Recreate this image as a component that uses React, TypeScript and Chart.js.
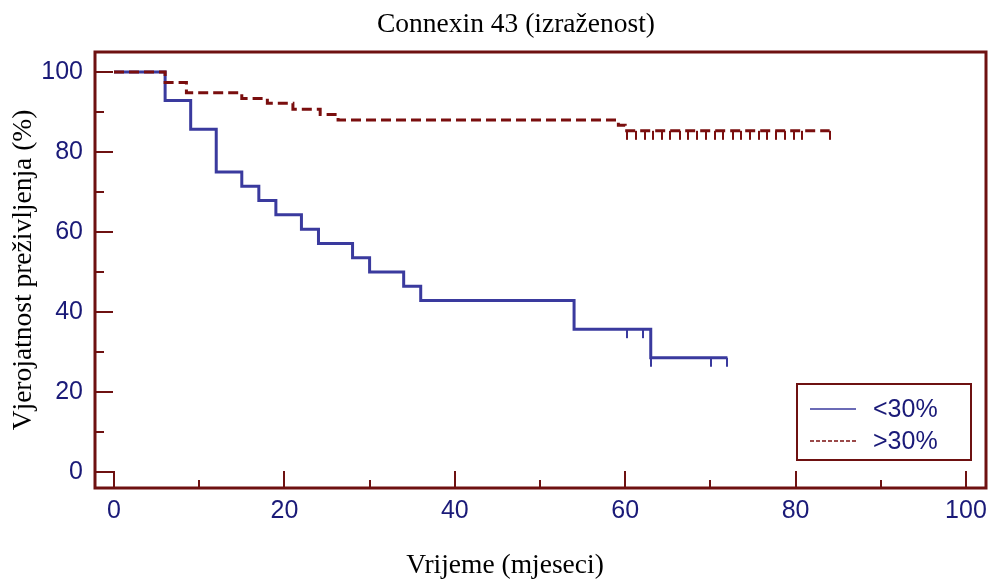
import React, { useEffect, useRef } from 'react';
import { Chart, registerables } from 'chart.js';

Chart.register(...registerables);

const TITLE = 'Connexin 43 (izraženost)';
const X_TITLE = 'Vrijeme (mjeseci)';
const Y_TITLE = 'Vjerojatnost preživljenja (%)';
const SERIES_LABELS = ['<30%', '>30%'];

// <30% group: event times (months) and survival (%)
const LOW_TIMES = [0, 6, 9, 12, 15, 17, 19, 22, 24, 28, 30, 34, 36, 54, 63, 72];
const LOW_SURV = [100, 92.86, 85.71, 75, 71.43, 67.86, 64.29, 60.71, 57.14, 53.57, 50, 46.43, 42.86, 35.71, 28.57, 28.57];
const LOW_CENSOR = [60.2, 62.1, 63, 70.1, 72];

// >30% group
const HIGH_TIMES = [0, 6, 8.5, 15, 18, 21, 24.2, 26.3, 59.2, 60, 84];
const HIGH_SURV = [100, 97.4, 94.8, 93.4, 92.2, 90.7, 89.4, 88.0, 86.7, 85.3, 85.3];
const HIGH_CENSOR = [60.2, 61.3, 62.3, 63.3, 64.3, 65.3, 66.4, 67.4, 68.4, 69.5, 70.5, 71.5, 72.6, 73.6, 74.6, 75.7, 76.7, 77.7, 78.8, 79.8, 80.8, 84];

const MAJOR_TICKS = [0, 20, 40, 60, 80, 100];
const MINOR_TICKS = [10, 30, 50, 70, 90];
const X_RANGE = [-2.23, 102.35];
const Y_RANGE = [-4, 105];

const NAVY = '#1a1a78';
const BLUE = '#3a3a9e';
const RED = '#7a0e0e';
const FRAME = '#6e1111';
const SANS = '"Liberation Sans", Arial, sans-serif';
const SERIF = '"Liberation Serif", "Times New Roman", serif';

function survivalAt(times: number[], surv: number[], t: number) {
  let v = surv[0];
  for (let i = 0; i < times.length; i++) if (times[i] <= t) v = surv[i];
  return v;
}

function makeCensorMark(color: string) {
  const c = document.createElement('canvas');
  c.width = 2;
  c.height = 20;
  const g = c.getContext('2d')!;
  g.fillStyle = color;
  g.fillRect(0, 10, 2, 9);
  return c;
}

const framePlugin = {
  id: 'frameTicks',
  afterDatasetsDraw(chart: any) {
    const { ctx, chartArea: a, scales } = chart;
    const x = scales.x;
    const y = scales.y;
    ctx.save();
    ctx.strokeStyle = FRAME;
    ctx.lineWidth = 2;
    ctx.beginPath();
    MAJOR_TICKS.forEach((v) => {
      const px = Math.round(x.getPixelForValue(v));
      ctx.moveTo(px, a.bottom);
      ctx.lineTo(px, a.bottom - 17);
      const py = Math.round(y.getPixelForValue(v));
      ctx.moveTo(a.left, py);
      ctx.lineTo(a.left + 18, py);
    });
    MINOR_TICKS.forEach((v) => {
      const px = Math.round(x.getPixelForValue(v));
      ctx.moveTo(px, a.bottom);
      ctx.lineTo(px, a.bottom - 8);
      const py = Math.round(y.getPixelForValue(v));
      ctx.moveTo(a.left, py);
      ctx.lineTo(a.left + 9, py);
    });
    ctx.stroke();
    ctx.lineWidth = 3;
    ctx.strokeRect(a.left, a.top, a.right - a.left, a.bottom - a.top);
    ctx.restore();
  },
  afterDraw(chart: any) {
    const { ctx, chartArea: a } = chart;
    ctx.save();
    // titles
    ctx.fillStyle = '#000';
    ctx.font = `27.5px ${SERIF}`;
    ctx.textAlign = 'center';
    ctx.textBaseline = 'alphabetic';
    ctx.fillText(TITLE, 516, 32);
    ctx.fillText(X_TITLE, 505, 573);

    // legend
    const bw = 174;
    const bh = 76;
    const bx = a.right - 15 - bw;
    const by = a.bottom - 28 - bh;
    ctx.fillStyle = '#fff';
    ctx.fillRect(bx, by, bw, bh);
    ctx.strokeStyle = FRAME;
    ctx.lineWidth = 2;
    ctx.strokeRect(bx, by, bw, bh);
    const ds = chart.data.datasets;
    [0, 1].forEach((i) => {
      const d = ds[i];
      const yy = by + 25 + i * 32;
      ctx.beginPath();
      ctx.strokeStyle = d.borderColor;
      ctx.lineWidth = 1.5;
      ctx.setLineDash(i === 1 ? [4, 2] : []);
      ctx.moveTo(bx + 13, yy);
      ctx.lineTo(bx + 59, yy);
      ctx.stroke();
      ctx.setLineDash([]);
      ctx.fillStyle = NAVY;
      ctx.font = `25px ${SANS}`;
      ctx.textAlign = 'left';
      ctx.textBaseline = 'middle';
      ctx.fillText(d.label, bx + 76, yy + 1);
    });
    ctx.restore();
  },
};

export default function App() {
  const ref = useRef<HTMLCanvasElement>(null);
  useEffect(() => {
    const chart = new Chart(ref.current!, {
      type: 'line',
      data: {
        datasets: [
          {
            label: SERIES_LABELS[0],
            data: LOW_TIMES.map((t, i) => ({ x: t, y: LOW_SURV[i] })),
            stepped: 'before',
            borderColor: BLUE,
            borderWidth: 3,
            borderJoinStyle: 'miter',
            borderCapStyle: 'butt',
            pointRadius: 0,
            fill: false,
            order: 3,
          },
          {
            label: SERIES_LABELS[1],
            data: HIGH_TIMES.map((t, i) => ({ x: t, y: HIGH_SURV[i] })),
            stepped: 'before',
            borderColor: RED,
            borderWidth: 3,
            borderDash: [10, 5],
            borderJoinStyle: 'miter',
            borderCapStyle: 'butt',
            pointRadius: 0,
            fill: false,
            order: 2,
          },
          {
            label: 'censor <30%',
            data: LOW_CENSOR.map((t) => ({ x: t, y: survivalAt(LOW_TIMES, LOW_SURV, t) })),
            showLine: false,
            pointStyle: makeCensorMark(BLUE),
            pointRadius: 5,
            order: 1,
          },
          {
            label: 'censor >30%',
            data: HIGH_CENSOR.map((t) => ({ x: t, y: survivalAt(HIGH_TIMES, HIGH_SURV, t) })),
            showLine: false,
            pointStyle: makeCensorMark(RED),
            pointRadius: 5,
            order: 0,
          },
        ],
      } as any,
      options: {
        responsive: false,
        animation: false,
        events: [],
        layout: { padding: { top: 52, right: 4, left: 0, bottom: 0 }, autoPadding: false },
        plugins: { legend: { display: false }, tooltip: { enabled: false }, title: { display: false } },
        scales: {
          x: {
            type: 'linear',
            min: X_RANGE[0],
            max: X_RANGE[1],
            afterBuildTicks: (s: any) => {
              s.ticks = MAJOR_TICKS.map((v) => ({ value: v }));
            },
            afterFit: (s: any) => {
              s.height = 93;
              s.paddingLeft = 0;
              s.paddingRight = 0;
            },
            grid: { display: false, drawTicks: false },
            border: { display: false },
            ticks: {
              color: NAVY,
              font: { family: SANS, size: 25, lineHeight: 1.2 },
              padding: 8,
              maxRotation: 0,
              autoSkip: false,
            },
          },
          y: {
            type: 'linear',
            min: Y_RANGE[0],
            max: Y_RANGE[1],
            afterBuildTicks: (s: any) => {
              s.ticks = MAJOR_TICKS.map((v) => ({ value: v }));
            },
            afterFit: (s: any) => {
              s.width = 95;
              s.paddingTop = 0;
              s.paddingBottom = 0;
            },
            grid: { display: false, drawTicks: false },
            border: { display: false },
            ticks: {
              color: NAVY,
              font: { family: SANS, size: 25, lineHeight: 1.2 },
              padding: 12,
              autoSkip: false,
            },
            title: {
              display: true,
              text: Y_TITLE,
              color: '#000',
              font: { family: SERIF, size: 27.5, lineHeight: 1.2 },
              padding: { top: 7, bottom: 0 },
            },
          },
        },
      } as any,
      plugins: [framePlugin],
    });
    return () => chart.destroy();
  }, []);
  return (
    <div style={{ position: 'absolute', left: 0, top: 0, width: 990, height: 581, background: '#fff' }}>
      <canvas ref={ref} width={990} height={581} style={{ display: 'block' }} />
    </div>
  );
}
